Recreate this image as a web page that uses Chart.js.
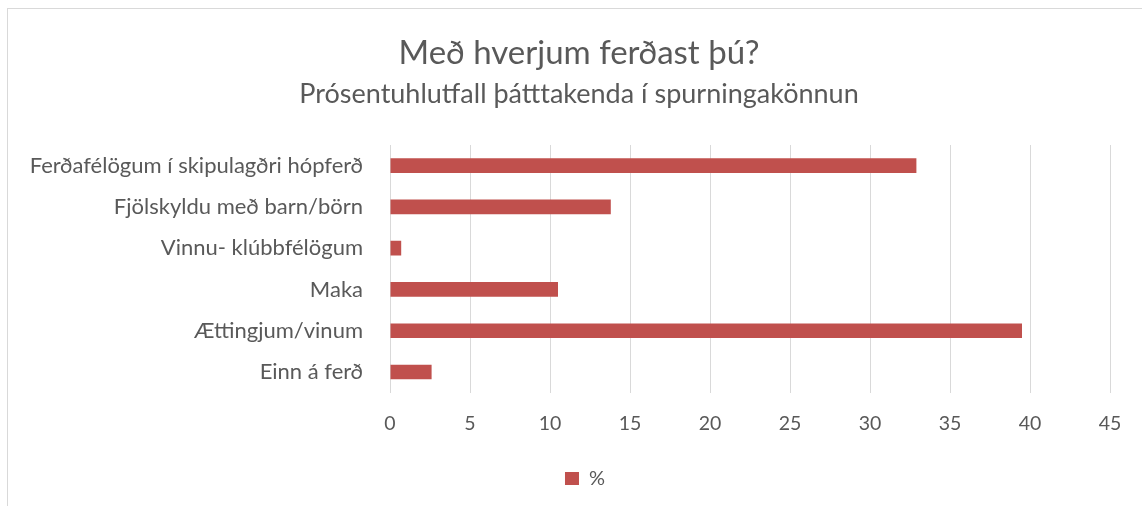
<!DOCTYPE html>
<html>
<head>
<meta charset="utf-8">
<script src="https://cdn.jsdelivr.net/npm/chart.js@4.4.1/dist/chart.umd.min.js"></script>
<style>
html,body{margin:0;padding:0;background:#fff;}
#wrap{position:relative;width:1142px;height:506px;}
#frame{position:absolute;left:7px;top:8px;width:1140px;height:500px;border-left:1px solid #d9d9d9;border-top:1px solid #d9d9d9;box-sizing:border-box;}
canvas{position:absolute;left:0;top:0;}
</style>
</head>
<body>
<div id="wrap">
<div id="frame"></div>
<canvas id="c" width="1142" height="506"></canvas>
</div>
<script>
const categories = ["Ferðafélögum í skipulagðri hópferð","Fjölskyldu með barn/börn","Vinnu- klúbbfélögum","Maka","Ættingjum/vinum","Einn á ferð"];
const values = [32.9, 13.8, 0.7, 10.5, 39.5, 2.6];
const seriesName = "%";
const titleText = "Með hverjum ferðast þú?";
const subtitleText = "Prósentuhlutfall þátttakenda í spurningakönnun";
const xMin = 0, xMax = 45, xStep = 5;

const FONT = "Lato, 'Open Sans', sans-serif";
const TXT = "#595959";

const legendShift = {
  id: 'legendShift',
  afterLayout(chart) {
    const lg = chart.legend;
    if (lg) { lg.left += 6; lg.right += 6; }
  }
};

new Chart(document.getElementById('c'), {
  type: 'bar',
  data: {
    labels: categories,
    datasets: [{
      label: seriesName,
      data: values,
      backgroundColor: '#C0504D',
      borderWidth: 0,
      categoryPercentage: 1,
      barPercentage: 0.355
    }]
  },
  options: {
    indexAxis: 'y',
    responsive: false,
    animation: false,
    devicePixelRatio: 1,
    layout: { padding: { top: 18, left: 16, right: 0, bottom: 7.5 } },
    plugins: {
      title: { display: true, text: titleText, color: TXT, font: { family: FONT, size: 33, weight: 'normal' }, padding: { top: 15.5, bottom: 0 } },
      subtitle: { display: true, text: subtitleText, color: TXT, font: { family: FONT, size: 27, weight: 'normal' }, padding: { top: 5, bottom: 34.5 } },
      legend: { display: true, position: 'bottom', labels: { color: TXT, font: { family: FONT, size: 20 }, boxWidth: 14, boxHeight: 13, padding: 10 } },
      tooltip: { enabled: false }
    },
    scales: {
      x: {
        min: xMin, max: xMax,
        ticks: { stepSize: xStep, color: TXT, font: { family: FONT, size: 19.5 }, padding: 19 },
        grid: { color: '#d9d9d9', lineWidth: 1, drawTicks: false },
        border: { display: false },
        afterFit: (s) => { s.height += 4.5; s.paddingRight = 32; }
      },
      y: {
        ticks: { color: TXT, font: { family: FONT, size: 22 }, padding: 27 },
        grid: { display: false, drawTicks: false },
        border: { display: false },
        afterFit: (s) => { s.width = 374; }
      }
    }
  },
  plugins: [legendShift]
});
</script>
</body>
</html>
